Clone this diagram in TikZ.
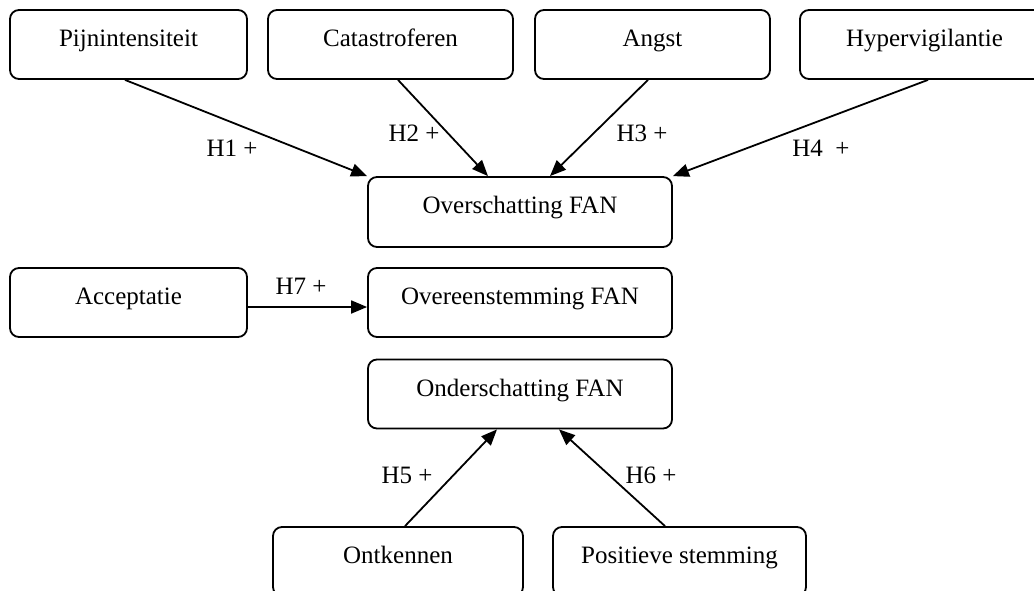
\documentclass[tikz,border=0pt]{standalone}
\usepackage{fontspec}
\setmainfont{Liberation Serif}
\usetikzlibrary{arrows.meta}
\begin{document}
\begin{tikzpicture}[x=1pt,y=-1pt,
  box/.style={draw, line width=1.8pt, rounded corners=9pt, inner xsep=0pt, inner ysep=0pt,
              text height=36.5pt, text depth=32.5pt, minimum height=69pt,
              font=\fontsize{25}{30}\selectfont},
  link/.style={line width=1.8pt, -{Triangle[length=16pt,width=13pt]}},
  tag/.style={anchor=base, inner sep=0pt, font=\fontsize{25}{30}\selectfont}]
\clip (0,0) rectangle (1034,591);

% predictors of overestimation
\node[box, minimum width=237pt] (pijn) at (128.5,44.5) {Pijnintensiteit};
\node[box, minimum width=245pt] (cata) at (390.5,44.5) {Catastroferen};
\node[box, minimum width=235pt] (angst) at (652.5,44.5) {Angst};
\node[box, minimum width=249pt] (hyper) at (924.5,44.5) {Hypervigilantie};

% outcome boxes
\node[box, minimum width=304pt, minimum height=70pt] (over) at (520,212) {Overschatting FAN};
\node[box, minimum width=237pt] (accept) at (128.5,302.5) {Acceptatie};
\node[box, minimum width=304pt] (overeen) at (520,302.5) {Overeenstemming FAN};
\node[box, minimum width=304pt] (onder) at (520,394) {Onderschatting FAN};

% predictors of underestimation
\node[box, minimum width=250pt] (ontk) at (398,561.5) {Ontkennen};
\node[box, minimum width=253pt] (posit) at (679.5,561.5) {Positieve stemming};

% hypotheses
\draw[link] ([xshift=-3.5pt]pijn.south) -- (over.north west);
\draw[link] ([xshift=7.5pt]cata.south) -- ([xshift=-32pt]over.north);
\draw[link] ([xshift=-4.5pt]angst.south) -- ([xshift=30pt]over.north);
\draw[link] ([xshift=3.5pt]hyper.south) -- (over.north east);
\draw[link] ([yshift=-4.5pt]accept.east) -- ([yshift=-4.5pt]overeen.west);
\draw[link] ([xshift=7pt]ontk.north) -- ([xshift=-23pt]onder.south);
\draw[link] ([xshift=-14.5pt]posit.north) -- ([xshift=39pt]onder.south);

\node[tag] (h1) at (232,156.5) {H1 +};
\node[tag] (h2) at (414,141.5) {H2 +};
\node[tag] (h3) at (642,141.5) {H3 +};
\node[tag] (h4) at (821,157) {H4\ \ +};
\node[tag] (h7) at (301,294) {H7 +};
\node[tag] (h5) at (407,483) {H5 +};
\node[tag] (h6) at (651,483) {H6 +};
\end{tikzpicture}
\end{document}
